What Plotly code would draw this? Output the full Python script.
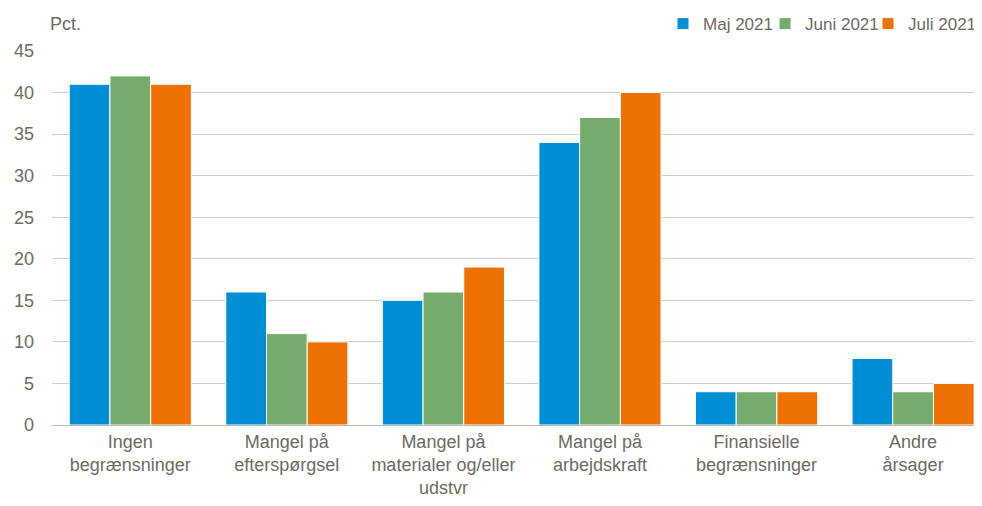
import plotly.graph_objects as go

categories = ["Ingen<br>begrænsninger", "Mangel på<br>efterspørgsel", "Mangel på<br>materialer og/eller<br>udstvr",
              "Mangel på<br>arbejdskraft", "Finansielle<br>begrænsninger", "Andre<br>årsager"]
series_names = ["Maj 2021", "Juni 2021", "Juli 2021"]
maj = [41, 16, 15, 34, 4, 8]
juni = [42, 11, 16, 37, 4, 4]
juli = [41, 10, 19, 40, 4, 5]
colors = ["#008FD5", "#76AB6E", "#EE7203"]
yticks = [0, 5, 10, 15, 20, 25, 30, 35, 40, 45]

txt = "#6B6B60"
legend_ids = ["legend", "legend2", "legend3"]
legend_x = [0.657, 0.7667, 1.0]
legend_anchor = ["left", "left", "right"]

fig = go.Figure()
for name, vals, c, lid in zip(series_names, [maj, juni, juli], colors, legend_ids):
    fig.add_trace(go.Bar(x=categories, y=vals, name=name, legend=lid, showlegend=True,
                         marker=dict(color=c, line=dict(color="white", width=1))))

legend_common = dict(orientation="h", y=1.072, yanchor="middle",
                     font=dict(size=17, color=txt), itemwidth=30, bgcolor="rgba(0,0,0,0)")

layout_legends = {lid: dict(x=lx, xanchor=xa, **legend_common)
                  for lid, lx, xa in zip(legend_ids, legend_x, legend_anchor)}

fig.update_layout(
    width=974, height=498,
    showlegend=True,
    margin=dict(l=44, r=0, t=43, b=81, autoexpand=False),
    barmode="group", bargap=0.22, bargroupgap=0,
    plot_bgcolor="white", paper_bgcolor="white",
    font=dict(family="Liberation Sans, Arial", size=18, color=txt),
    xaxis=dict(showgrid=False, ticks="", showline=True, linecolor="#B8B8AE", linewidth=1,
               range=[-0.5, 5.44], automargin=False, tickfont=dict(size=18, color=txt)),
    yaxis=dict(range=[0, 45], tickvals=yticks, showgrid=True, gridcolor="#CFCFC7", gridwidth=1,
               zeroline=False, ticks="", automargin=False, ticklabelstandoff=17,
               tickfont=dict(size=18, color=txt)),
    annotations=[dict(text="Pct.", x=0, xref="paper", xanchor="left", y=1.072, yref="paper", yanchor="middle",
                      showarrow=False, font=dict(size=18, color=txt), xshift=-4)],
    **layout_legends,
)
fig.write_html("out.html")
